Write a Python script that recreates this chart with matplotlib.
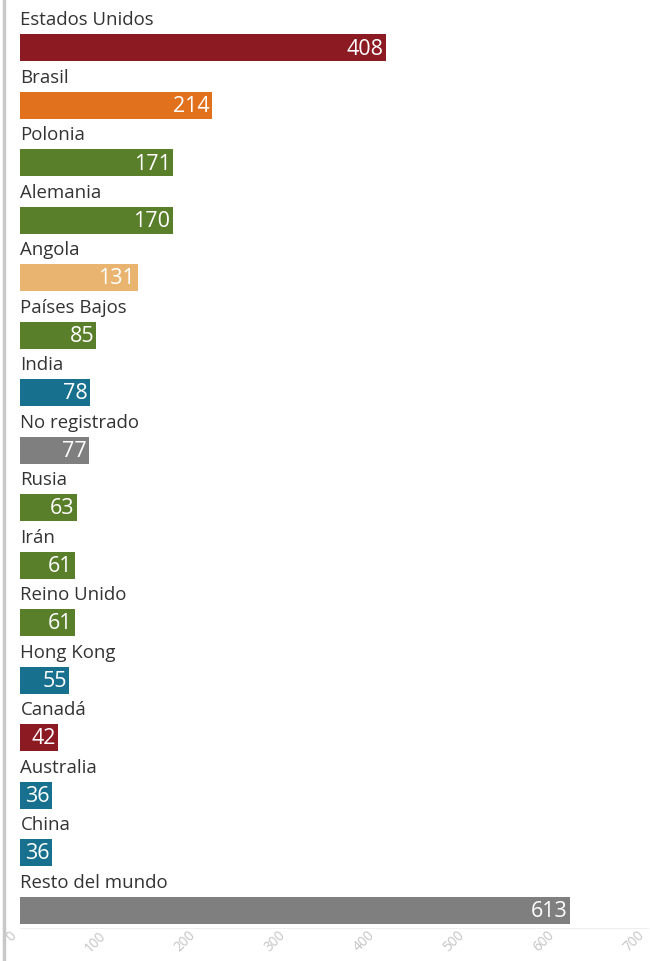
import matplotlib
matplotlib.use("Agg")
import matplotlib.pyplot as plt
from matplotlib.lines import Line2D
from matplotlib.transforms import ScaledTranslation

paises = ["Estados Unidos", "Brasil", "Polonia", "Alemania", "Angola",
          "Países Bajos", "India", "No registrado", "Rusia", "Irán",
          "Reino Unido", "Hong Kong", "Canadá", "Australia", "China",
          "Resto del mundo"]
valores = [408, 214, 171, 170, 131, 85, 78, 77, 63, 61, 61, 55, 42, 36, 36, 613]
grupos = ["rojo", "naranja", "verde", "verde", "arena", "verde", "azul", "gris",
          "verde", "verde", "verde", "azul", "rojo", "azul", "azul", "gris"]
ticks_x = [0, 100, 200, 300, 400, 500, 600, 700]

paleta = {
    "rojo": "#8c1a22",
    "naranja": "#e2711d",
    "verde": "#5a7f2b",
    "arena": "#e9b470",
    "azul": "#17718e",
    "gris": "#7f7f7f",
}

plt.rcParams["font.family"] = ["Open Sans", "DejaVu Sans"]

fig = plt.figure(figsize=(6.5, 9.61), dpi=100)
ax = fig.add_axes([20 / 650, 1 - 928 / 961, 628 / 650, 928 / 961])

filas = list(range(len(paises)))
ax.barh(filas, valores, height=0.47, color=[paleta[g] for g in grupos])

for i, (nombre, v) in enumerate(zip(paises, valores)):
    ax.text(0.5, i - 0.48, nombre, ha="left", va="center",
            fontsize=13.4, color="#333333")
    ax.text(v - 2.5, i + 0.02, str(v), ha="right", va="center",
            fontsize=15.5, color="white")

ax.set_xlim(0, 700)
ax.set_ylim(15.31, -0.833)
ax.set_xticks(ticks_x)
ax.set_xticklabels([str(t) for t in ticks_x], rotation=45, ha="right",
                   va="center", rotation_mode="anchor", fontsize=9.8,
                   color="#c4c4c4")
ax.tick_params(axis="x", length=0, pad=4)
# nudge the slanted tick labels left so the last one stays inside the figure
shift = ScaledTranslation(-6 / 100, 0, fig.dpi_scale_trans)
for lbl in ax.get_xticklabels():
    lbl.set_transform(lbl.get_transform() + shift)
ax.set_yticks([])
for s in ["top", "right", "left"]:
    ax.spines[s].set_visible(False)
ax.spines["bottom"].set_color("#eeeeee")
ax.spines["bottom"].set_linewidth(0.8)

fig.add_artist(Line2D([4 / 650, 4 / 650], [0, 1], transform=fig.transFigure,
                      color="#c8c8c8", linewidth=2.5))

fig.savefig("out.png", dpi=100)
